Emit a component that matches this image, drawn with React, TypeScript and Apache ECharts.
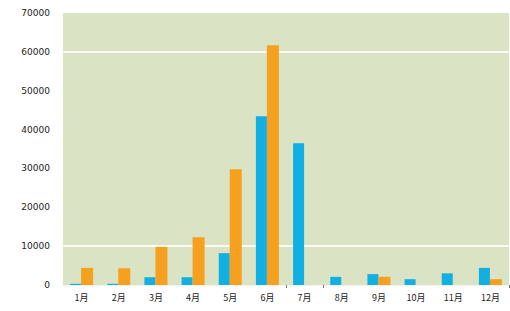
import React, { useEffect, useRef } from "react";
import * as echarts from "echarts";

const categories = ["1月", "2月", "3月", "4月", "5月", "6月", "7月", "8月", "9月", "10月", "11月", "12月"];
const blueValues = [300, 300, 2000, 2000, 8200, 43400, 36500, 2100, 2800, 1500, 3000, 4400];
const orangeValues = [4400, 4300, 9800, 12300, 29800, 61700, 0, 0, 2100, 0, 0, 1500];
const yTicks = [0, 10000, 20000, 30000, 40000, 50000, 60000, 70000];

export default function App() {
  const ref = useRef<HTMLDivElement>(null);
  useEffect(() => {
    if (!ref.current) return;
    const chart = echarts.init(ref.current, undefined, { renderer: "svg" });
    chart.setOption({
      animation: false,
      backgroundColor: "#ffffff",
      grid: {
        left: 63,
        right: 1,
        top: 13,
        bottom: 26,
        show: true,
        backgroundColor: "#dae3c4",
        borderWidth: 0,
      },
      xAxis: [
        {
          type: "category",
          data: categories,
          axisLine: { show: true, lineStyle: { color: "#f4f4ec", width: 1 } },
          axisTick: { show: false },
          axisLabel: {
            color: "#222",
            fontSize: 9,
            margin: 8,
            interval: 0,
            hideOverlap: false,
            fontFamily: "Noto Sans CJK SC",
          },
        },
        {
          type: "category",
          data: categories,
          position: "bottom",
          axisLine: { show: false },
          axisTick: {
            show: true,
            length: 3,
            interval: (index: number) => index === 6 || index === 7,
            lineStyle: { color: "#777" },
          },
          axisLabel: { show: false },
        },
      ],
      yAxis: {
        type: "value",
        min: yTicks[0],
        max: yTicks[yTicks.length - 1],
        interval: 10000,
        axisLine: { show: false },
        axisTick: { show: false },
        axisLabel: {
          color: "#222",
          fontSize: 9,
          margin: 13,
          fontFamily: "DejaVu Sans",
          formatter: (v: number) => String(v),
        },
        splitLine: {
          show: true,
          lineStyle: {
            width: 2,
            color: ["transparent", "#fbfbf4", "transparent", "transparent", "transparent", "transparent", "#fbfbf4", "transparent"],
          },
        },
      },
      series: [
        {
          type: "bar",
          data: blueValues,
          barWidth: 11,
          barGap: "0%",
          itemStyle: { color: "#12afe3" },
        },
        {
          type: "bar",
          data: orangeValues,
          barWidth: 12,
          barGap: "0%",
          itemStyle: { color: "#f6a020" },
        },
      ],
    });
    return () => chart.dispose();
  }, []);
  return <div ref={ref} style={{ width: 510, height: 311, position: "absolute", left: 0, top: 0 }} />;
}
